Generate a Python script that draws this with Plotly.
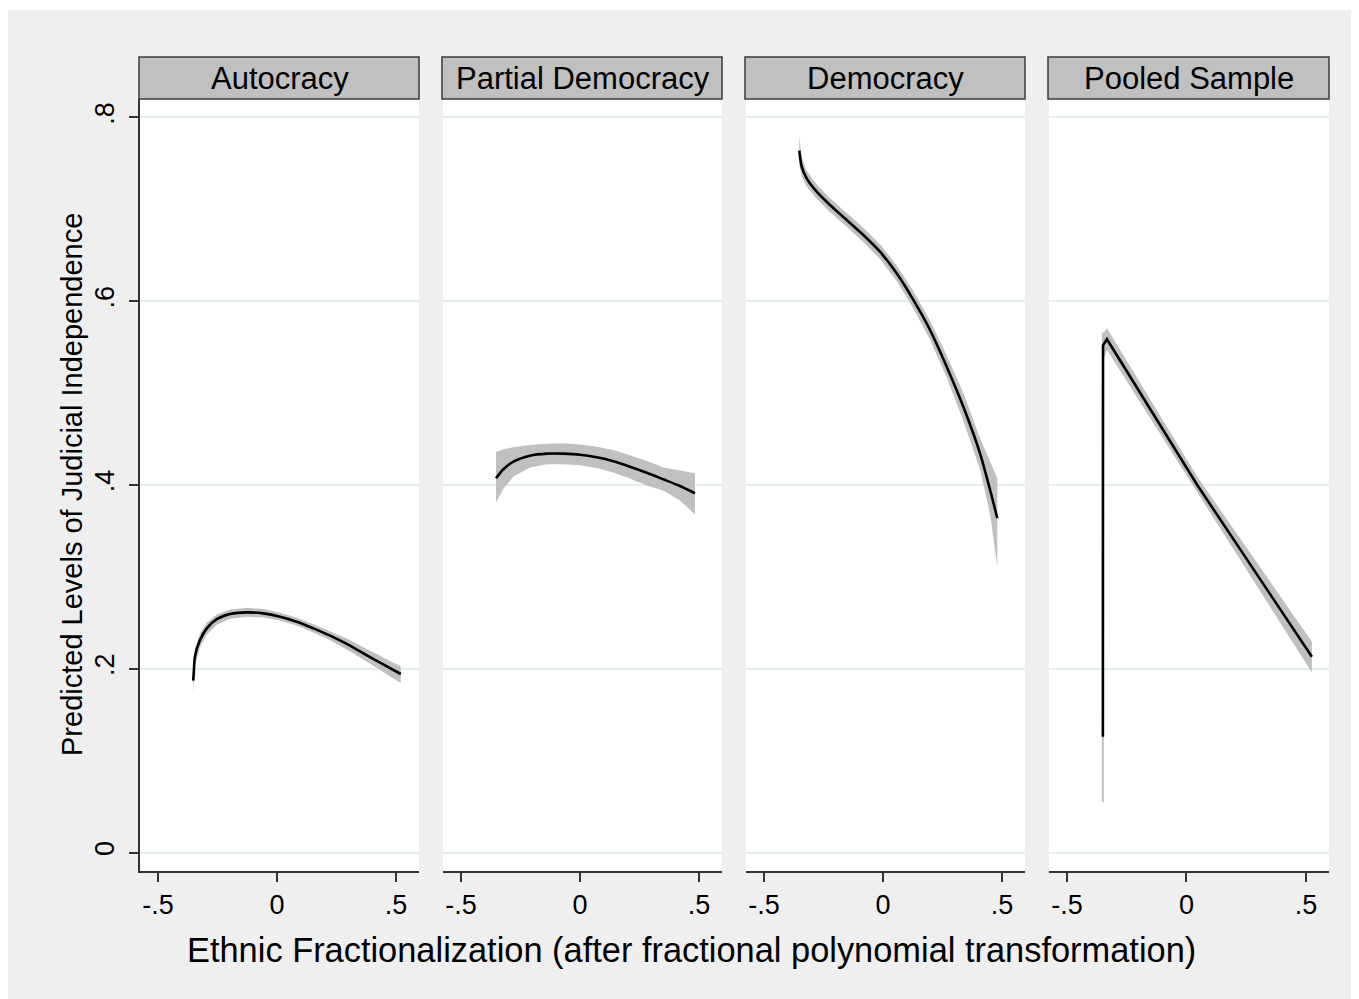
import plotly.graph_objects as go

# page offset of the figure (browser body margin)
OFF = 8
W, H = 1359 - OFF, 999 - OFF

panel_titles = ["Autocracy", "Partial Democracy", "Democracy", "Pooled Sample"]

# Autocracy
auto_x = [-0.352, -0.349, -0.345, -0.324, -0.295, -0.253, -0.197, -0.127, -0.057, 0.013, 0.083, 0.153, 0.223, 0.293, 0.363, 0.433, 0.520]
auto_fit = [0.187, 0.1986, 0.213, 0.231, 0.244, 0.254, 0.2596, 0.2614, 0.2603, 0.2567, 0.2512, 0.244, 0.236, 0.227, 0.2168, 0.2066, 0.1943]
auto_lo = [0.172, 0.188, 0.203, 0.223, 0.237, 0.248, 0.2545, 0.2565, 0.2558, 0.2525, 0.247, 0.2395, 0.231, 0.221, 0.210, 0.199, 0.1845]
auto_hi = [0.196, 0.207, 0.222, 0.238, 0.250, 0.259, 0.2645, 0.2665, 0.2650, 0.261, 0.2555, 0.2485, 0.241, 0.233, 0.2235, 0.2145, 0.2025]

# Partial Democracy
part_x = [-0.353, -0.322, -0.280, -0.210, -0.140, -0.070, 0.000, 0.070, 0.140, 0.210, 0.280, 0.350, 0.420, 0.483]
part_fit = [0.4073, 0.4171, 0.4254, 0.4319, 0.4341, 0.4341, 0.4330, 0.4301, 0.4258, 0.4199, 0.4134, 0.4062, 0.3989, 0.3910]
part_lo = [0.381, 0.396, 0.409, 0.419, 0.4225, 0.4225, 0.4215, 0.4185, 0.4135, 0.4070, 0.3995, 0.3940, 0.3830, 0.3680]
part_hi = [0.436, 0.439, 0.441, 0.4435, 0.4450, 0.4455, 0.4440, 0.4415, 0.4380, 0.4325, 0.4265, 0.4190, 0.4155, 0.4127]

# Democracy
demo_x = [-0.3517, -0.3416, -0.3206, -0.2786, -0.2227, -0.1525, -0.0826, -0.0126, 0.0575, 0.1275, 0.1975, 0.2676, 0.3375, 0.4076, 0.450, 0.4803]
demo_fit = [0.7639, 0.7465, 0.7338, 0.7193, 0.7048, 0.6884, 0.6721, 0.6539, 0.6304, 0.6014, 0.5687, 0.5288, 0.4852, 0.4345, 0.3946, 0.3638]
demo_lo = [0.748, 0.736, 0.725, 0.7115, 0.697, 0.681, 0.6645, 0.646, 0.622, 0.592, 0.558, 0.517, 0.470, 0.417, 0.368, 0.311]
demo_hi = [0.780, 0.757, 0.742, 0.727, 0.712, 0.696, 0.680, 0.662, 0.639, 0.611, 0.579, 0.541, 0.500, 0.451, 0.425, 0.4073]

# Pooled Sample
pool_x = [-0.350, -0.3495, -0.333, 0.045, 0.525]
pool_fit = [0.126, 0.552, 0.5586, 0.400, 0.213]
pool_band_x = [-0.354, -0.346, -0.346, -0.333, 0.045, 0.525]
pool_lo = [0.055, 0.055, 0.538, 0.547, 0.392, 0.196]
pool_hi = [0.566, 0.566, 0.566, 0.5705, 0.409, 0.2295]

x_tickvals = [-0.5, 0, 0.5]
x_ticktext = ["-.5", "0", ".5"]
y_tickvals = [0, 0.2, 0.4, 0.6, 0.8]
y_ticktext = ["0", ".2", ".4", ".6", ".8"]

x_title = "Ethnic Fractionalization (after fractional polynomial transformation)"
y_title = "Predicted Levels of Judicial Independence"

panels = [
    (auto_x, auto_fit, auto_x, auto_lo, auto_hi, "spline"),
    (part_x, part_fit, part_x, part_lo, part_hi, "spline"),
    (demo_x, demo_fit, demo_x, demo_lo, demo_hi, "spline"),
    (pool_x, pool_fit, pool_band_x, pool_lo, pool_hi, "linear"),
]


def fx(px):
    return (px - OFF) / W


def fy(py):
    return 1 - (py - OFF) / H


px_dom = [(140, 419), (443, 722), (746, 1025), (1049, 1329)]
ydom = [fy(871), fy(99)]

FONT = "Liberation Sans, Arial, Helvetica, sans-serif"
GRID = "#e2eeee"
AXC = "#333333"

fig = go.Figure()
layout = dict(
    width=W, height=H,
    margin=dict(l=0, r=0, t=0, b=0),
    paper_bgcolor="#efefef",
    plot_bgcolor="white",
    showlegend=False,
    font=dict(family=FONT, color="black"),
    shapes=[], annotations=[],
)

for i, (xs, fit, bx, lo, hi, shape) in enumerate(panels):
    n = i + 1
    xa = "x" if n == 1 else f"x{n}"
    ya = "y" if n == 1 else f"y{n}"
    fig.add_trace(go.Scatter(
        x=bx + bx[::-1], y=hi + lo[::-1], xaxis=xa, yaxis=ya,
        fill="toself", fillcolor="#c0c0c0", mode="lines",
        line=dict(width=0, color="#c0c0c0"), hoverinfo="skip"))
    fig.add_trace(go.Scatter(
        x=xs, y=fit, xaxis=xa, yaxis=ya, mode="lines",
        line=dict(color="black", width=2.6, shape=shape, smoothing=0.7)))
    d0, d1 = px_dom[i]
    xkey = "xaxis" if n == 1 else f"xaxis{n}"
    ykey = "yaxis" if n == 1 else f"yaxis{n}"
    layout[xkey] = dict(
        domain=[fx(d0), fx(d1)], anchor=ya, range=[-0.5756, 0.5966],
        tickvals=x_tickvals, ticktext=x_ticktext, ticks="outside",
        ticklen=9, tickwidth=1.5, tickcolor=AXC, showline=True,
        linecolor=AXC, linewidth=1.5, showgrid=False, zeroline=False,
        tickfont=dict(size=27, family=FONT, color="black"))
    layout[ykey] = dict(
        domain=ydom, anchor=xa, range=[-0.0201, 0.8201],
        tickvals=y_tickvals, ticktext=y_ticktext,
        showgrid=True, gridcolor=GRID, gridwidth=2, zeroline=False,
        showline=(n == 1), linecolor=AXC, linewidth=1.5,
        ticks="outside" if n == 1 else "", ticklen=9, tickwidth=1.5,
        tickcolor=AXC, showticklabels=(n == 1), tickangle=-90,
        ticklabelstandoff=4,
        tickfont=dict(size=27, family=FONT, color="black"))
    # strip header
    layout["shapes"].append(dict(
        type="rect", xref="paper", yref="paper",
        x0=fx(d0 - 1), x1=fx(d1), y0=fy(99), y1=fy(57),
        fillcolor="#c0c0c0", line=dict(color="#3a3a3a", width=1.5), layer="above"))
    layout["annotations"].append(dict(
        text=panel_titles[i], xref="paper", yref="paper",
        x=fx((d0 + d1) / 2), y=fy(78), xanchor="center", yanchor="middle",
        showarrow=False, font=dict(size=31, family=FONT, color="black")))

# thin white band at top
layout["shapes"].append(dict(type="rect", xref="paper", yref="paper",
                             x0=0, x1=1, y0=fy(10), y1=1, fillcolor="white",
                             line=dict(width=0), layer="below"))

layout["annotations"].append(dict(
    text=x_title, xref="paper", yref="paper", x=fx(691), y=fy(950),
    xanchor="center", yanchor="middle", showarrow=False,
    font=dict(size=34.4, family=FONT, color="black")))
layout["annotations"].append(dict(
    text=y_title, xref="paper", yref="paper", x=fx(72), y=fy(485),
    xanchor="center", yanchor="middle", showarrow=False, textangle=-90,
    font=dict(size=29, family=FONT, color="black")))

fig.update_layout(**layout)
fig.write_html("out.html")
